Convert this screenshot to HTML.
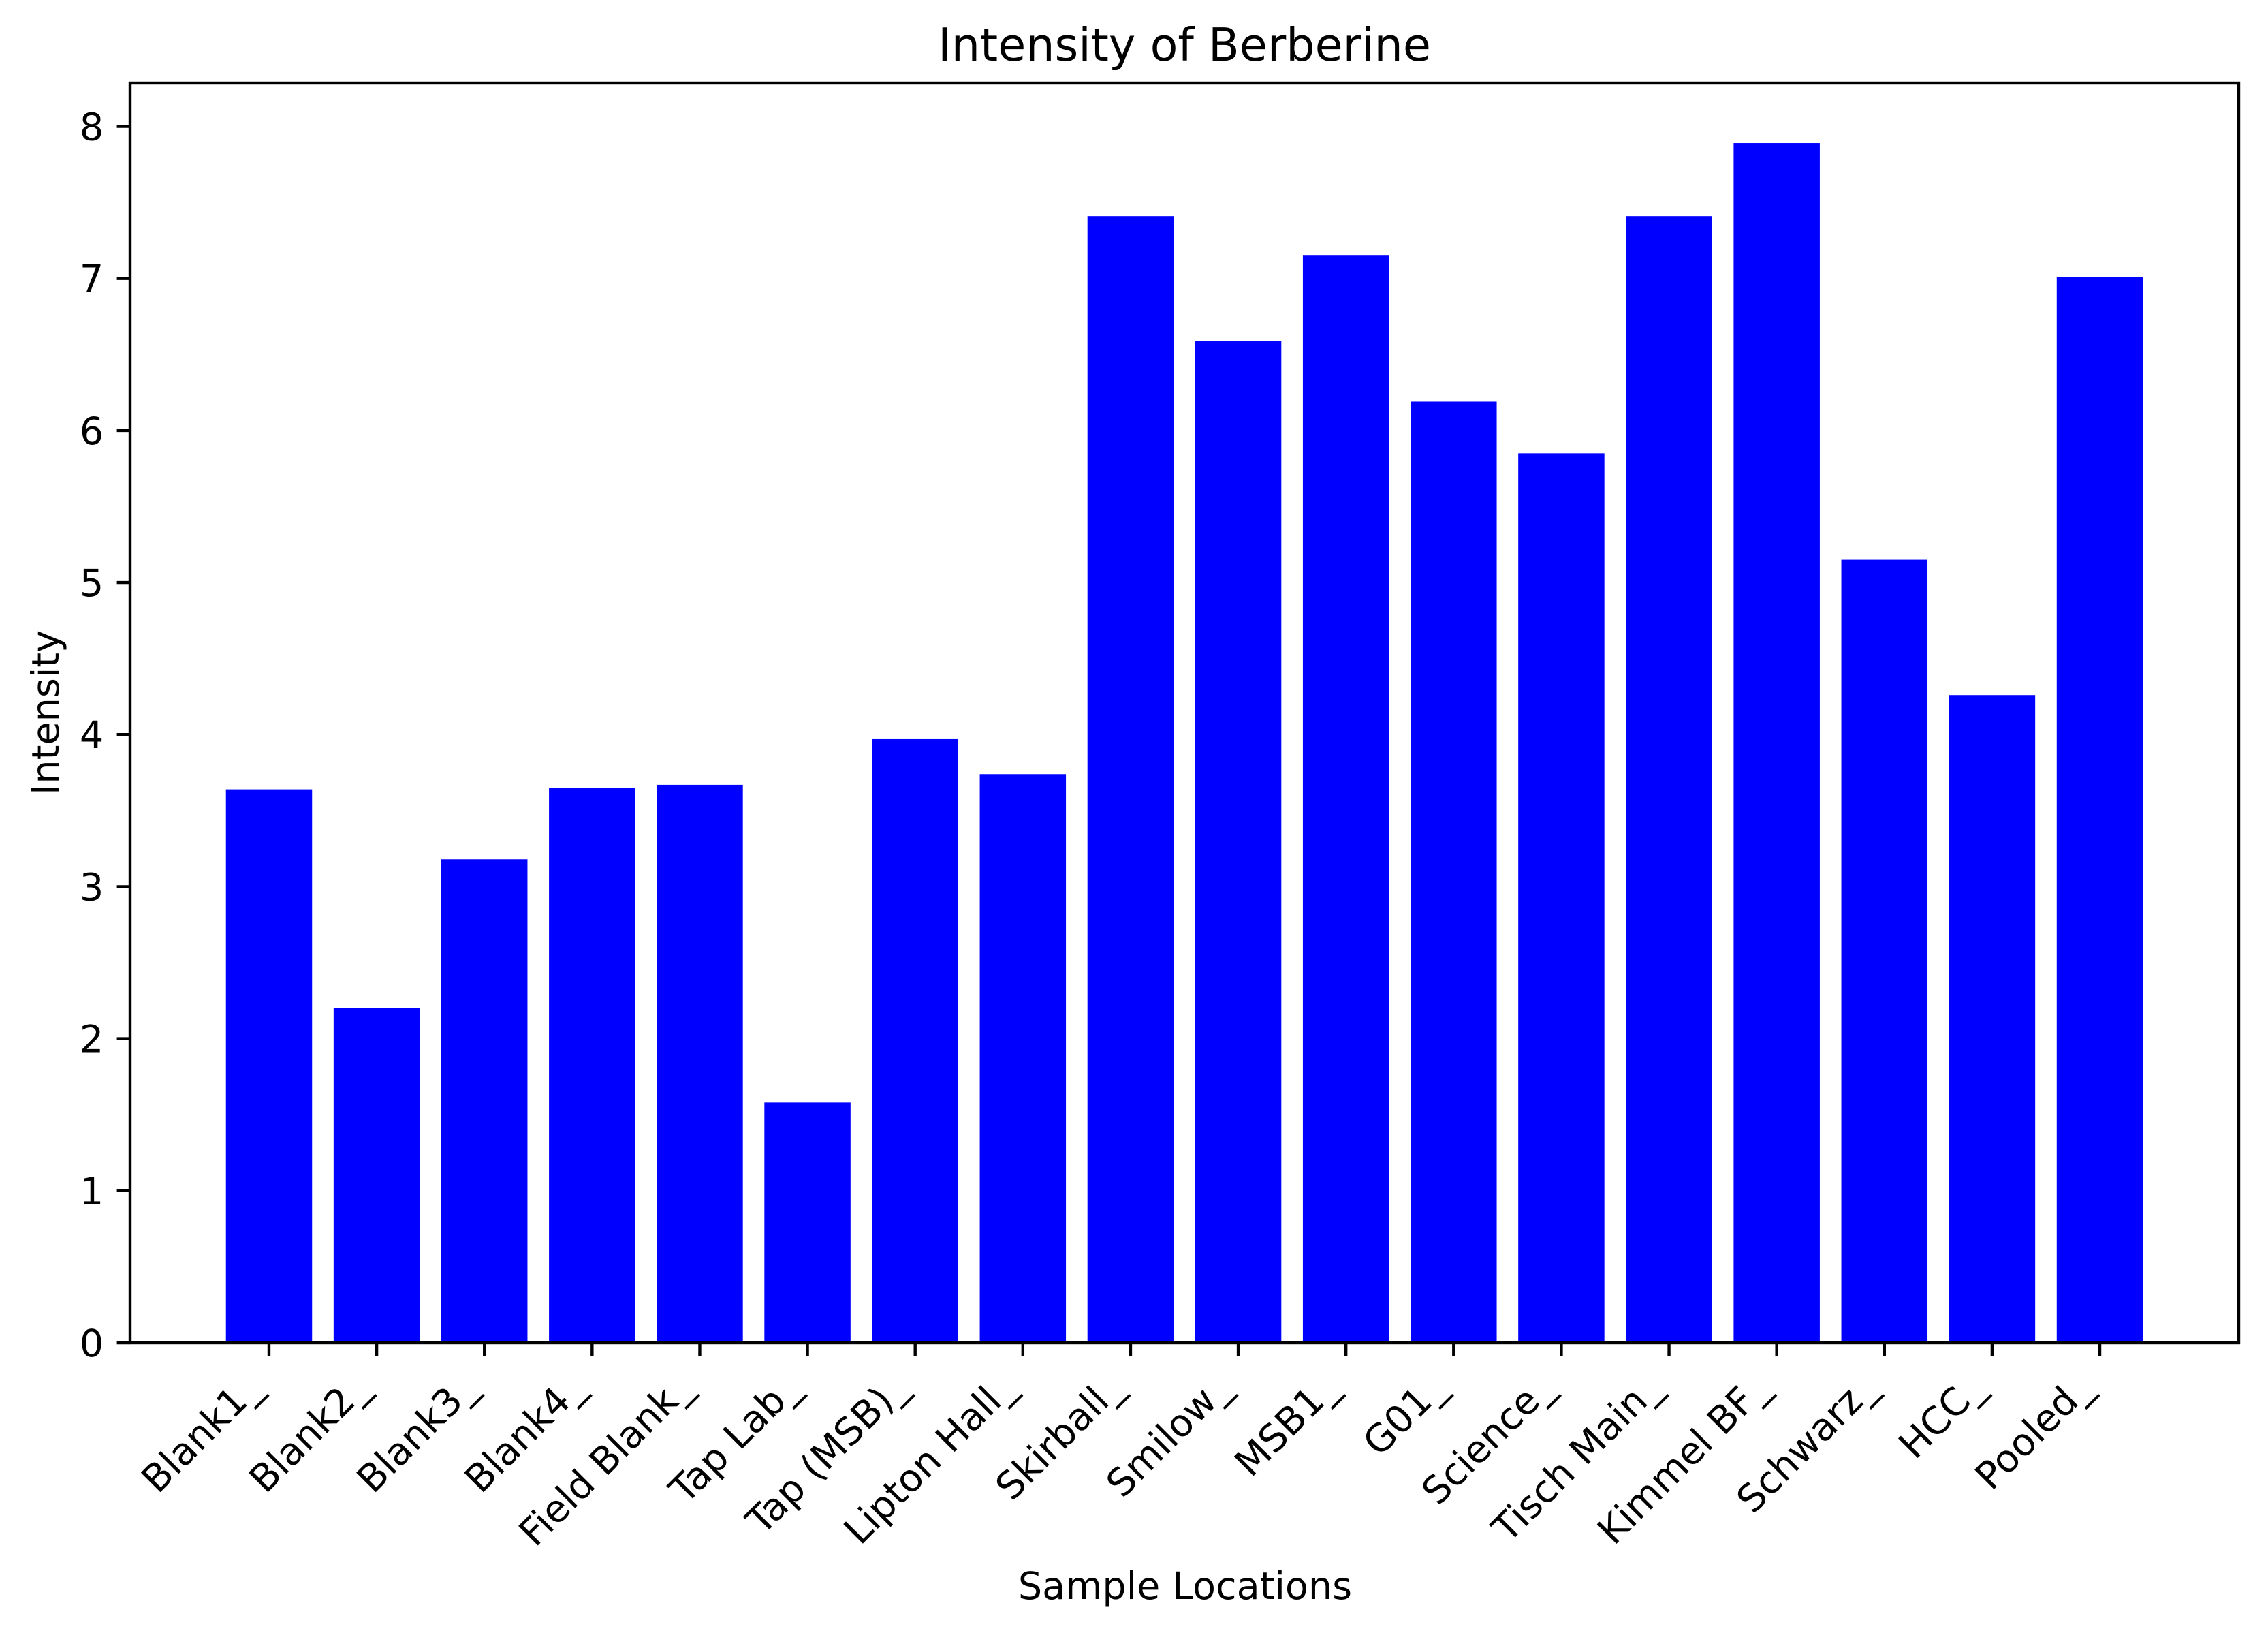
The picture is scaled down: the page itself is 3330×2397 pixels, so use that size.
<!DOCTYPE html>
<html><head><meta charset="utf-8"><style>
html,body{margin:0;padding:0;background:#fff;}
svg{display:block;font-family:"DejaVu Sans","Liberation Sans",sans-serif;}
</style></head><body>
<svg id="chart" width="3330" height="2397" viewBox="0 0 3330 2397" xmlns="http://www.w3.org/2000/svg">
<rect width="3330" height="2397" fill="#fff"/>
<g id="bars"></g>
<g id="axes"></g>
<text x="1739" y="89" font-size="66.7" text-anchor="middle">Intensity of Berberine</text>
<text x="1740" y="2347" font-size="55.6" text-anchor="middle">Sample Locations</text>
<text x="0" y="0" font-size="55.6" text-anchor="middle" transform="translate(86,1046) rotate(-90)">Intensity</text>
</svg>
<script>
const categories = ["Blank1_","Blank2_","Blank3_","Blank4_","Field Blank_","Tap Lab_","Tap (MSB)_","Lipton Hall_","Skirball_","Smilow_","MSB1_","G01_","Science_","Tisch Main_","Kimmel BF_","Schwarz_","HCC_","Pooled_"];
const intensity = [3.64,2.2,3.18,3.65,3.67,1.58,3.97,3.74,7.41,6.59,7.15,6.19,5.85,7.41,7.89,5.15,4.26,7.01];
const yTicks = [0,1,2,3,4,5,6,7,8];

const NS = "http://www.w3.org/2000/svg";
const L = 191, R = 3287, T = 122, B = 1971;
const n = categories.length;
const xMin = -0.4 - 0.05*(n - 1 + 0.8), xMax = n - 1 + 0.4 + 0.05*(n - 1 + 0.8);
const yMax = Math.max(...intensity) * 1.05;
function xs(v){ return L + (v - xMin) / (xMax - xMin) * (R - L); }
function ys(v){ return B - v / yMax * (B - T); }
function mk(tag, attrs){ const e = document.createElementNS(NS, tag); for (const k in attrs) e.setAttribute(k, attrs[k]); return e; }

const barsG = document.getElementById('bars');
intensity.forEach((v, i) => {
  const x0 = xs(i - 0.4), x1 = xs(i + 0.4);
  const r = mk('rect', {x: x0, y: ys(v), width: x1 - x0, height: ys(0) - ys(v), fill: '#0000ff'});
  
  
  barsG.appendChild(r);
});

const ax = document.getElementById('axes');
const frame = mk('rect', {x: L, y: T, width: R - L, height: B - T, fill: 'none', stroke: '#000', 'stroke-width': 4.4});


ax.appendChild(frame);

yTicks.forEach(t => {
  const y = ys(t);
  const tk = mk('line', {x1: L - 19.4, x2: L, y1: y, y2: y, stroke: '#000', 'stroke-width': 4.4});
  
  
  ax.appendChild(tk);
  const lb = mk('text', {x: L - 38.8, y: y + 20, 'font-size': 55.6, 'text-anchor': 'end'});
  lb.textContent = String(t);
  
  
  ax.appendChild(lb);
});

categories.forEach((c, i) => {
  const x = xs(i);
  const tk = mk('line', {x1: x, x2: x, y1: B, y2: B + 19.4, stroke: '#000', 'stroke-width': 4.4});
  
  
  ax.appendChild(tk);
  const px = x - 9, py = B + 38.8 + 30;
  const lb = mk('text', {x: 0, y: 0, 'font-size': 55.6, 'text-anchor': 'end', transform: 'translate(' + px + ',' + py + ') rotate(-45)'});
  lb.textContent = c;
  
  
  ax.appendChild(lb);
});
</script>
</body></html>
